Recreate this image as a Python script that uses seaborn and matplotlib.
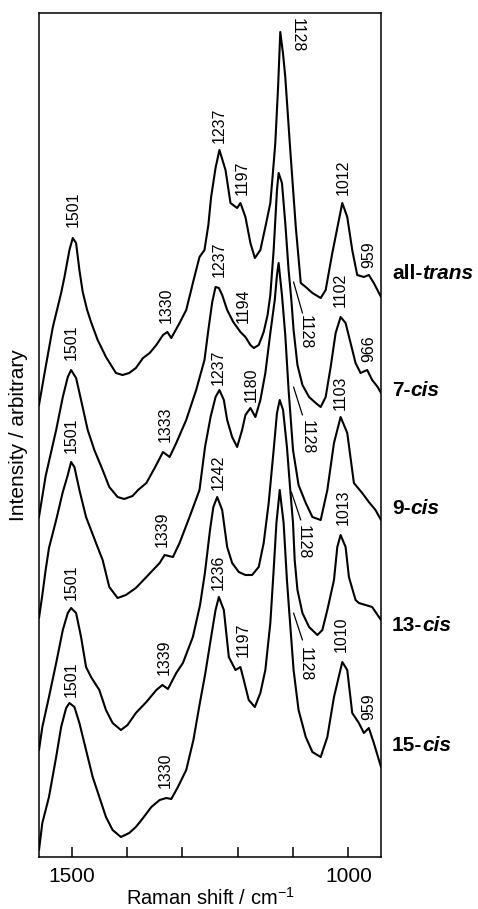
import matplotlib
matplotlib.use("Agg")
import matplotlib.pyplot as plt
import seaborn as sns
import pandas as pd
from matplotlib import transforms

sns.set_style("ticks")
plt.rcParams["font.family"] = ["Liberation Sans", "DejaVu Sans"]
plt.rcParams["text.color"] = "black"
plt.rcParams["axes.labelcolor"] = "black"
plt.rcParams["xtick.color"] = "black"
plt.rcParams["ytick.color"] = "black"

# ---- data (Raman shift / cm-1, intensity in arbitrary units incl. stacking offset) ----
all_trans_shift = [1559, 1547, 1534, 1519, 1513, 1504, 1498, 1492, 1486, 1480, 1472, 1465, 1453, 1438, 1420,
                   1408, 1396, 1384, 1371, 1359, 1347, 1335, 1327, 1320, 1305, 1293, 1284, 1281, 1269, 1260,
                   1253, 1248, 1240, 1233, 1222, 1213, 1201, 1195, 1186, 1177, 1169, 1159, 1150, 1141, 1137,
                   1132, 1127, 1123, 1118, 1114, 1105, 1095, 1086, 1077, 1065, 1050, 1041, 1029, 1011, 1002,
                   993, 984, 972, 963, 954, 941]
all_trans_int = [452, 490, 530, 564, 580, 607, 619, 614, 587, 565, 547, 535, 517, 500, 484,
                 482, 484, 489, 499, 504, 512, 522, 525, 519, 534, 547, 567, 574, 600, 607,
                 632, 660, 689, 707, 687, 654, 649, 654, 640, 614, 599, 607, 630, 654, 680,
                 714, 770, 825, 803, 780, 707, 630, 574, 570, 564, 559, 567, 604, 654, 640,
                 607, 582, 580, 582, 574, 560]

cis7_shift = [1559, 1547, 1528, 1516, 1507, 1501, 1492, 1483, 1471, 1459, 1444, 1432, 1417, 1405, 1390,
              1380, 1365, 1350, 1335, 1323, 1311, 1293, 1275, 1260, 1253, 1246, 1240, 1234, 1228, 1219,
              1208, 1195, 1186, 1177, 1171, 1162, 1153, 1146, 1141, 1135, 1129, 1126, 1120, 1114, 1108,
              1103, 1099, 1092, 1083, 1071, 1059, 1050, 1041, 1032, 1023, 1014, 1005, 996, 987, 978,
              966, 957, 947, 941]
cis7_int = [340, 381, 427, 460, 480, 487, 479, 457, 427, 407, 387, 370, 360, 358, 361,
            367, 374, 389, 405, 400, 414, 437, 467, 497, 527, 555, 570, 569, 562, 547,
            535, 525, 520, 512, 509, 512, 525, 542, 562, 607, 667, 684, 674, 634, 587,
            557, 527, 492, 472, 460, 454, 450, 460, 490, 524, 540, 534, 514, 494, 484,
            487, 477, 470, 464]

cis9_shift = [1559, 1553, 1547, 1541, 1528, 1516, 1507, 1501, 1495, 1486, 1474, 1465, 1456, 1444, 1432,
              1417, 1402, 1384, 1365, 1353, 1341, 1332, 1317, 1305, 1287, 1269, 1259, 1249, 1240, 1233,
              1225, 1219, 1210, 1201, 1192, 1186, 1177, 1168, 1159, 1150, 1141, 1133, 1129, 1126, 1120,
              1114, 1108, 1100, 1090, 1077, 1065, 1050, 1038, 1026, 1014, 1002, 990, 975, 963, 951,
              941]
cis9_int = [239, 262, 287, 309, 337, 365, 382, 395, 390, 367, 340, 327, 314, 297, 270,
            259, 262, 269, 280, 287, 294, 302, 300, 314, 340, 367, 410, 440, 460, 467,
            457, 437, 420, 410, 427, 442, 449, 440, 457, 484, 524, 557, 582, 594, 562,
            522, 467, 407, 372, 354, 340, 337, 367, 414, 440, 424, 374, 364, 355, 347,
            337]

cis13_shift = [1559, 1553, 1541, 1528, 1516, 1507, 1501, 1492, 1483, 1474, 1465, 1450, 1438, 1426, 1411,
               1399, 1384, 1365, 1347, 1336, 1326, 1311, 1299, 1281, 1268, 1259, 1250, 1244, 1237, 1228,
               1219, 1210, 1198, 1186, 1174, 1162, 1153, 1144, 1135, 1129, 1124, 1118, 1111, 1105, 1100,
               1097, 1092, 1083, 1071, 1056, 1047, 1038, 1026, 1020, 1014, 1005, 999, 987, 981, 969,
               957, 941]
cis13_int = [107, 130, 160, 194, 227, 244, 249, 244, 220, 190, 180, 167, 147, 134, 127,
             132, 144, 155, 167, 172, 168, 184, 194, 220, 252, 285, 327, 350, 360, 347,
             310, 294, 285, 282, 282, 290, 314, 354, 407, 444, 457, 447, 410, 367, 334,
             297, 267, 244, 230, 222, 227, 247, 277, 310, 322, 310, 280, 257, 254, 252,
             250, 237]

cis15_shift = [1559, 1553, 1541, 1528, 1519, 1510, 1504, 1495, 1486, 1474, 1462, 1450, 1438, 1426, 1411,
               1396, 1384, 1371, 1356, 1341, 1329, 1320, 1308, 1293, 1280, 1269, 1259, 1248, 1240, 1234,
               1225, 1216, 1204, 1195, 1189, 1180, 1169, 1159, 1150, 1141, 1135, 1130, 1124, 1117, 1111,
               1108, 1099, 1090, 1077, 1065, 1050, 1038, 1026, 1011, 1002, 993, 981, 972, 963, 954,
               941]
cis15_int = [7, 34, 60, 100, 130, 149, 154, 150, 134, 107, 80, 60, 40, 27, 20,
             24, 30, 39, 50, 57, 59, 58, 70, 87, 117, 152, 182, 220, 247, 260,
             247, 200, 187, 190, 177, 157, 150, 164, 187, 234, 287, 334, 367, 334, 277,
             254, 187, 147, 120, 105, 100, 120, 160, 195, 187, 144, 134, 124, 129, 114,
             90]

sample_prefix = ["all-", "7-", "9-", "13-", "15-"]
sample_suffix = ["trans", "cis", "cis", "cis", "cis"]
sample_label_y = [584, 467, 349, 232, 112]

# peak labels (rotated, placed above the band)
peak_text = ["1501", "1330", "1237", "1197", "1012", "959",
             "1501", "1333", "1237", "1194", "1102", "966",
             "1501", "1339", "1237", "1180", "1103",
             "1501", "1339", "1242", "1013",
             "1501", "1330", "1236", "1197", "1010", "959"]
peak_x = [1497, 1329, 1233, 1191, 1009, 963,
          1501, 1331, 1233, 1190, 1014, 963,
          1501, 1336, 1235, 1175, 1014,
          1501, 1333, 1235, 1010,
          1501, 1331, 1235, 1190, 1012, 963]
peak_y = [630, 534, 714, 662, 662, 589,
          497, 415, 580, 534, 550, 495,
          404, 310, 472, 455, 447,
          257, 182, 367, 332,
          160, 69, 267, 200, 205, 137]

# 1128 labels (reading downward), with leader lines
band_text = "1128"
top_band_x, top_band_y = 1093, 839
leader_x0 = [1099, 1099, 1103, 1099]
leader_y0 = [575, 470, 365, 244]
leader_x1 = [1083, 1083, 1086, 1083]
leader_y1 = [544, 442, 337, 217]
leader_tx = [1077, 1075, 1082, 1077]
leader_ty = [542, 437, 332, 210]

# ---- build table ----
series = [("all-trans", all_trans_shift, all_trans_int),
          ("7-cis", cis7_shift, cis7_int),
          ("9-cis", cis9_shift, cis9_int),
          ("13-cis", cis13_shift, cis13_int),
          ("15-cis", cis15_shift, cis15_int)]
rows = []
for name, xs, ys in series:
    for x, y in zip(xs, ys):
        rows.append({"sample": name, "shift": x, "intensity": y})
df = pd.DataFrame(rows)

fig = plt.figure(figsize=(4.78, 9.09), dpi=100)
ax = fig.add_axes([0.0816, 0.0572, 0.7155, 0.9285])

sns.lineplot(data=df, x="shift", y="intensity", units="sample", estimator=None,
             sort=False, color="black", linewidth=1.5, ax=ax)

ax.set_xlim(1559, 941)
ax.set_ylim(0, 844)

# ticks
ax.set_xticks([1500, 1000])
ax.set_xticks([1400, 1300, 1200, 1100], minor=True)
ax.set_xticklabels(["1500", "1000"])
ax.tick_params(axis="x", which="both", direction="in", length=7, width=1.1,
               top=False, labelsize=15, pad=7, colors="black")
ax.set_yticks([])
for sp in ax.spines.values():
    sp.set_linewidth(1.1)
    sp.set_color("black")

ax.set_xlabel(r"Raman shift / cm$^{\mathregular{-1}}$", fontsize=14.5, color="black")
ax.set_ylabel("Intensity / arbitrary", fontsize=15, color="black")
ax.xaxis.set_label_coords(0.5, -0.035)
ax.yaxis.set_label_coords(-0.033, 0.5)

# peak labels
for t, x, y in zip(peak_text, peak_x, peak_y):
    ax.text(x, y, t, rotation=90, ha="center", va="bottom", fontsize=11.5, color="black")

ax.text(top_band_x, top_band_y, band_text, rotation=-90, ha="center", va="top",
        fontsize=11.5, color="black")
for x0, y0, x1, y1, tx, ty in zip(leader_x0, leader_y0, leader_x1, leader_y1, leader_tx, leader_ty):
    ax.plot([x0, x1], [y0, y1], color="black", lw=0.9)
    ax.text(tx, ty, band_text, rotation=-90, ha="center", va="top", fontsize=11.5, color="black")

# sample names on the right
trans = transforms.blended_transform_factory(ax.transAxes, ax.transData)
for pre, suf, y in zip(sample_prefix, sample_suffix, sample_label_y):
    t1 = ax.text(1.032, y, pre, transform=trans, ha="left", va="center",
                 fontsize=15, fontweight="bold", clip_on=False, color="black")
    ax.annotate(suf, xy=(1, 0), xycoords=t1, ha="left", va="bottom", color="black",
                fontsize=15, fontweight="bold", fontstyle="italic", annotation_clip=False)

fig.savefig("out.png", dpi=100)
